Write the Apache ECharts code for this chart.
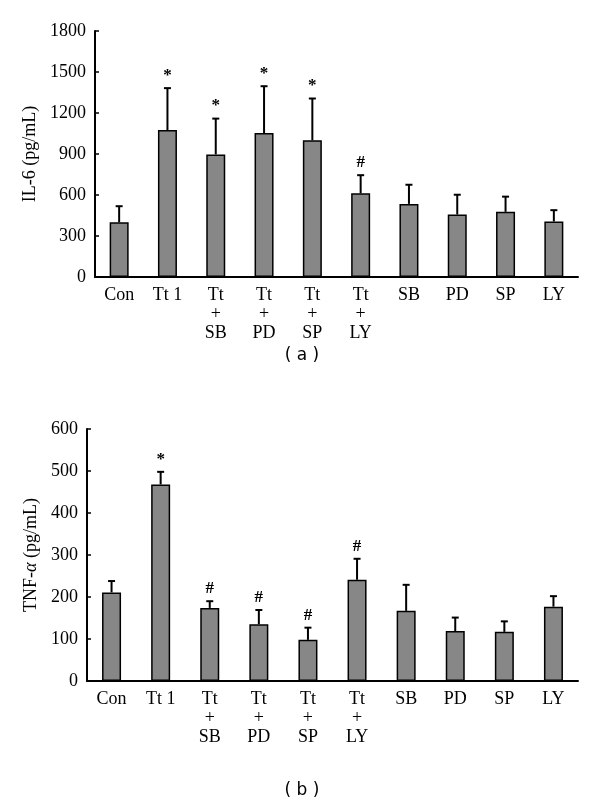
<!DOCTYPE html>
<html><head><meta charset="utf-8">
<script src="https://cdn.jsdelivr.net/npm/echarts@6/dist/echarts.min.js"></script>
<style>html,body{margin:0;padding:0;background:#fff}#c{width:600px;height:801px}</style>
</head><body><div id="c"></div>
<script>
const categories = ['Con', 'Tt 1', 'Tt\n+\nSB', 'Tt\n+\nPD', 'Tt\n+\nSP', 'Tt\n+\nLY', 'SB', 'PD', 'SP', 'LY'];
const il6Mean = [400, 1075, 897, 1053, 1000, 612, 535, 457, 477, 406];
const il6Upper = [518, 1382, 1159, 1396, 1306, 745, 675, 602, 588, 489];
const il6Marks = ['', '*', '*', '*', '*', '#', '', '', '', ''];
const il6Ticks = [0, 300, 600, 900, 1200, 1500, 1800];
const tnfMean = [211, 468, 174, 135, 98, 241, 167, 119, 117, 177];
const tnfUpper = [238, 498, 190, 169, 127, 291, 229, 151, 142, 202];
const tnfMarks = ['', '*', '#', '#', '#', '#', '', '', '', ''];
const tnfTicks = [0, 100, 200, 300, 400, 500, 600];

const serif = '"Liberation Serif","DejaVu Serif",serif';
const chart = echarts.init(document.getElementById('c'), null, {renderer: 'canvas'});

function errSeries(xi, upper, marks) {
  return {
    type: 'custom', xAxisIndex: xi, yAxisIndex: xi, z: 5,
    data: upper.map((u, i) => [i, u, i]),
    renderItem: function (params, api) {
      const i = api.value(0);
      const top = api.coord([i, api.value(1)]);
      const src = xi === 0 ? il6Mean : tnfMean;
      const base = api.coord([i, src[i]]);
      const mk = (xi === 0 ? il6Marks : tnfMarks)[i];
      const children = [
        {type: 'line', shape: {x1: top[0], y1: base[1], x2: top[0], y2: top[1]}, style: {stroke: '#000', lineWidth: 2}},
        {type: 'line', shape: {x1: top[0] - 3.5, y1: top[1], x2: top[0] + 3.5, y2: top[1]}, style: {stroke: '#000', lineWidth: 2}}
      ];
      if (mk) children.push({type: 'text', style: {text: mk, x: top[0], y: top[1] - 4, textAlign: 'center', textVerticalAlign: 'bottom', font: 'bold 17px ' + serif, fill: '#000'}});
      return {type: 'group', children: children};
    }
  };
}

function xAxis(gi) {
  return {
    type: 'category', gridIndex: gi, data: categories, boundaryGap: true,
    axisLine: {lineStyle: {color: '#000', width: 2}},
    axisTick: {inside: true, length: 4, lineStyle: {color: '#000', width: 1.5}, alignWithLabel: false},
    axisLabel: {color: '#000', fontFamily: serif, fontSize: 18, margin: 9, lineHeight: 19, interval: 0}
  };
}
function yAxis(gi, max, interval, name, gap) {
  return {
    type: 'value', gridIndex: gi, min: 0, max: max, interval: interval,
    name: name, nameLocation: 'middle', nameGap: gap, nameRotate: 90,
    nameTextStyle: {color: '#000', fontFamily: serif, fontSize: 18, rich: {i: {fontStyle: 'italic', fontFamily: serif, fontSize: 18, color: '#000'}}},
    axisLine: {show: true, lineStyle: {color: '#000', width: 2}},
    axisTick: {show: true, inside: true, length: 4, lineStyle: {color: '#000', width: 1.5}},
    splitLine: {show: false},
    axisLabel: {color: '#000', fontFamily: serif, fontSize: 18, margin: 9, formatter: v => String(v)}
  };
}

chart.setOption({
  animation: false,
  title: [
    {text: '( a )', left: 297, textAlign: 'center', top: 342, textStyle: {fontFamily: '"DejaVu Sans",sans-serif', fontSize: 17, fontWeight: 'normal', color: '#000'}},
    {text: '( b )', left: 297, textAlign: 'center', top: 777, textStyle: {fontFamily: '"DejaVu Sans",sans-serif', fontSize: 17, fontWeight: 'normal', color: '#000'}}
  ],
  grid: [
    {left: 95, top: 31, right: 22, height: 246},
    {left: 87, top: 429, right: 22, height: 252}
  ],
  xAxis: [xAxis(0), xAxis(1)],
  yAxis: [
    yAxis(0, il6Ticks[il6Ticks.length - 1], il6Ticks[1] - il6Ticks[0], 'IL-6 (pg/mL)', 48),
    yAxis(1, tnfTicks[tnfTicks.length - 1], tnfTicks[1] - tnfTicks[0], 'TNF-{i|α} (pg/mL)', 40)
  ],
  series: [
    {type: 'bar', xAxisIndex: 0, yAxisIndex: 0, data: il6Mean, barWidth: 19,
     itemStyle: {color: '#878787', borderColor: '#000', borderWidth: 1.5}},
    errSeries(0, il6Upper, il6Marks),
    {type: 'bar', xAxisIndex: 1, yAxisIndex: 1, data: tnfMean, barWidth: 19,
     itemStyle: {color: '#878787', borderColor: '#000', borderWidth: 1.5}},
    errSeries(1, tnfUpper, tnfMarks)
  ]
});
</script></body></html>
